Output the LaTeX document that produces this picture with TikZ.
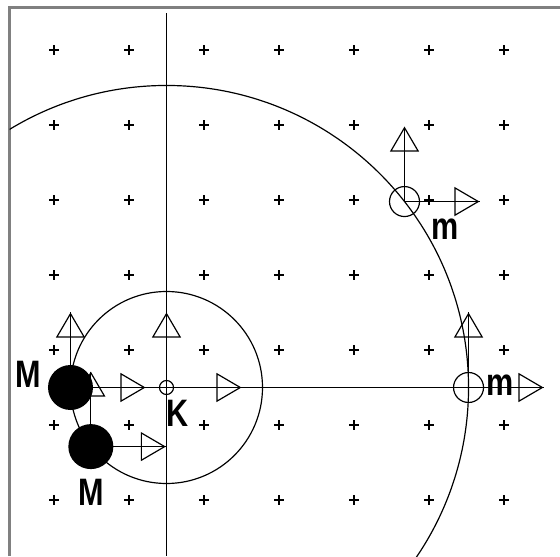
\documentclass[tikz,border=0pt]{standalone}
\usepackage{fontspec}
\setmainfont{Liberation Sans}[FakeStretch=0.8]
\usetikzlibrary{positioning,arrows.meta,calc}

\tikzset{
  vec/.style={-{Triangle[open,length=9.5pt,width=11pt]},postaction={draw,-}},
  lbl/.style={font=\bfseries\fontsize{14.5}{14.5}\selectfont,inner sep=0pt}
}

\begin{document}
\begin{tikzpicture}[line width=0.45pt]
\useasboundingbox (-2.22,-2.2467) rectangle (5.2467,5.1667);

% frame
\draw[gray,line width=0.8pt] (-2.093,-2.2467) -- (-2.093,5.066) -- (5.2467,5.066);
\clip (-2.093,-2.2467) rectangle (5.2467,5.066);

% grid
\foreach \x in {-1.5,-0.5,...,4.5}
  \foreach \y in {-1.5,-0.5,...,4.5}
    \draw (\x-0.062,\y) -- (\x+0.062,\y) (\x,\y-0.062) -- (\x,\y+0.062);

% positions
\coordinate (K) at (0,0);
\coordinate (M1) at (180:1.28);
\coordinate (M2) at (218:1.28);
\coordinate (m1) at (0:4.027);
\coordinate (m2) at (38:4.027);
\coordinate (top) at (0,4.99);
\coordinate (bot) at (0,-2.2467);

\draw (K) circle (1.28);
\draw (K) circle (4.027);
\draw (top) -- (bot);
\draw (M1) -- (m1);

\node[draw,circle,minimum size=0.187cm,inner sep=0pt] (k) at (K) {};
\node[draw,circle,minimum size=0.4cm,inner sep=0pt] (mm1) at (m1) {};
\node[draw,circle,minimum size=0.4cm,inner sep=0pt] (mm2) at (m2) {};

% velocities
\foreach \b in {M1,M2,K,m1,m2} {
  \path (\b) ++(0,1) coordinate (\b up);
  \path (\b) ++(1,0) coordinate (\b right);
  \draw[vec] (\b) -- (\b up);
  \draw[vec] (\b) -- (\b right);
}

\node[fill,circle,minimum size=0.6cm,inner sep=0pt] (MM1) at (M1) {};
\node[fill,circle,minimum size=0.6cm,inner sep=0pt] (MM2) at (M2) {};

% labels
\node[lbl] at (-1.84,0.173) {M};
\node[lbl] at (-1.007,-1.4) {M};
\node[lbl] at (0.153,-0.347) {K};
\node[lbl] at (3.713,2.107) {m};
\node[lbl] at (4.447,0.027) {m};

\end{tikzpicture}
\end{document}
